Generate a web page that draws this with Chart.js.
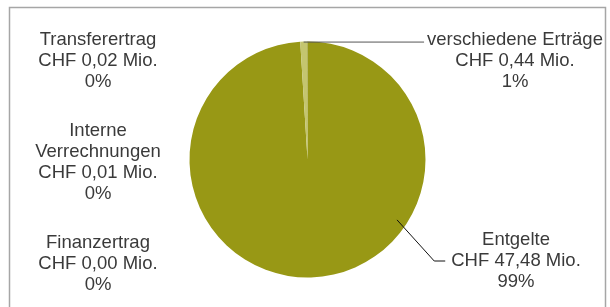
<!DOCTYPE html>
<html>
<head>
<meta charset="utf-8">
<script src="https://cdn.jsdelivr.net/npm/chart.js@4/dist/chart.umd.min.js"></script>
<style>
  html, body { margin: 0; padding: 0; background: #fff; }
  canvas { display: block; }
</style>
</head>
<body>
<canvas id="ertragPie" width="610" height="307"></canvas>
<script>
// Data
const categories = ['Entgelte', 'verschiedene Erträge', 'Transferertrag', 'Interne\nVerrechnungen', 'Finanzertrag'];
const valuesMio = [47.48, 0.44, 0.02, 0.01, 0.00];
const sliceColors = ['#989815', '#c4c56f', '#7a7a10', '#b0b040', '#d8d89a'];

const total = valuesMio.reduce((a, b) => a + b, 0);
const fmtMio = v => 'CHF ' + v.toFixed(2).replace('.', ',') + ' Mio.';
const fmtPct = v => Math.round(v / total * 100) + '%';

const FONT = '18.5px "Liberation Sans", Arial, sans-serif';
const TEXT_COLOR = '#3a3a3a';
const LINE_H = 21;

// label anchors (centre x, first line y) relative to the canvas
const labelPos = [
    { x: 516, y: 240 },   // Entgelte
    { x: 515, y: 40 },    // verschiedene Erträge
    { x: 98, y: 40 },     // Transferertrag
    { x: 98, y: 131 },    // Interne Verrechnungen
    { x: 98, y: 243 }     // Finanzertrag
];

const frame = {
    id: 'frame',
    beforeDraw(chart) {
        const ctx = chart.ctx;
        ctx.save();
        ctx.strokeStyle = '#a6a6a6';
        ctx.lineWidth = 1.5;
        ctx.strokeRect(9.5, 7.5, 596, 320);
        ctx.restore();
    }
};

const sliceLabels = {
    id: 'sliceLabels',
    afterDraw(chart) {
        const ctx = chart.ctx;
        const meta = chart.getDatasetMeta(0);
        ctx.save();
        ctx.font = FONT;
        ctx.fillStyle = TEXT_COLOR;
        ctx.textAlign = 'center';
        ctx.textBaseline = 'middle';

        categories.forEach((name, i) => {
            const lines = name.split('\n').concat([fmtMio(valuesMio[i]), fmtPct(valuesMio[i])]);
            const p = labelPos[i];
            lines.forEach((line, k) => ctx.fillText(line, p.x, p.y + k * LINE_H));
        });

        // leader for "verschiedene Erträge": from the top of its slice, horizontal to the text
        const arc1 = meta.data[1];
        const mid1 = (arc1.startAngle + arc1.endAngle) / 2;
        const x1 = arc1.x + Math.cos(mid1) * arc1.outerRadius;
        const y1 = arc1.y + Math.sin(mid1) * arc1.outerRadius;
        const w1 = ctx.measureText(categories[1]).width;
        ctx.strokeStyle = '#555';
        ctx.lineWidth = 1;
        ctx.beginPath();
        ctx.moveTo(x1, y1 + 0.5);
        ctx.lineTo(labelPos[1].x - w1 / 2 - 3, y1 + 0.5);
        ctx.stroke();

        // leader for "Entgelte": from inside the slice down to the CHF line
        const arc0 = meta.data[0];
        const a0 = 34 * Math.PI / 180;
        const x0 = arc0.x + Math.cos(a0) * arc0.outerRadius * 0.915;
        const y0 = arc0.y + Math.sin(a0) * arc0.outerRadius * 0.915;
        const w0 = ctx.measureText(fmtMio(valuesMio[0])).width;
        const yL = labelPos[0].y + LINE_H;
        const xEnd = labelPos[0].x - w0 / 2 - 6;
        ctx.strokeStyle = '#111';
        ctx.beginPath();
        ctx.moveTo(x0, y0);
        ctx.lineTo(xEnd - 11, yL);
        ctx.lineTo(xEnd, yL);
        ctx.stroke();
        ctx.restore();
    }
};

new Chart(document.getElementById('ertragPie'), {
    type: 'pie',
    data: {
        labels: categories,
        datasets: [{
            data: valuesMio,
            backgroundColor: sliceColors,
            borderWidth: 0
        }]
    },
    options: {
        responsive: false,
        animation: false,
        layout: {
            padding: { top: 41.5, bottom: 29.5, left: 5, right: 0 }
        },
        plugins: {
            legend: { display: false },
            tooltip: { enabled: false }
        }
    },
    plugins: [frame, sliceLabels]
});
</script>
</body>
</html>
